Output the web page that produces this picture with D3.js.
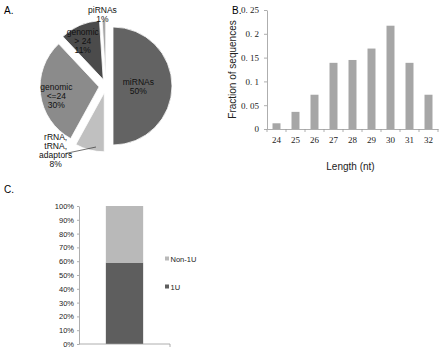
<!DOCTYPE html>
<html>
<head>
<meta charset="utf-8">
<script src="https://cdn.jsdelivr.net/npm/d3@7"></script>
<style>
  body { margin: 0; background: #fff; }
  svg { font-family: "Liberation Sans", Arial, sans-serif; }
</style>
</head>
<body>
<svg id="chart" width="440" height="350"></svg>
<script>
// A. composition of reads
var pieLabels = ['miRNAs', 'rRNA,\ntRNA,\nadaptors', 'genomic\n<=24', 'genomic\n> 24', 'piRNAs'];
var pieValues = [50, 8, 30, 11, 1];
var pieColors = ['#636363', '#c0c0c0', '#8b8b8b', '#4b4b4b', '#a8a8a8'];

// B. length distribution
var lengths = ['24', '25', '26', '27', '28', '29', '30', '31', '32'];
var fractions = [0.012, 0.036, 0.072, 0.139, 0.145, 0.169, 0.217, 0.139, 0.072];
var fracTicks = [0, 0.05, 0.1, 0.15, 0.2, 0.25];
var fracTickLabels = ['0', '0. 05', '0. 1', '0. 15', '0. 2', '0. 25'];

// C. first nucleotide
var stackSeries = ['1U', 'Non-1U'];
var stackValues = [0.59, 0.41];
var stackColors = ['#5e5e5e', '#b9b9b9'];
var pctTicks = [0, 0.1, 0.2, 0.3, 0.4, 0.5, 0.6, 0.7, 0.8, 0.9, 1];

var svg = d3.select('#chart');

// panel letters
svg.append('text').attr('x', 4).attr('y', 14).attr('font-size', 10).text('A.');
svg.append('text').attr('x', 232).attr('y', 14).attr('font-size', 10).text('B.');
svg.append('text').attr('x', 4).attr('y', 193).attr('font-size', 10).text('C.');

/* ---------- A. exploded pie ---------- */
var cx = 106, cy = 86, r = 59, explode = 7;

var pie = d3.pie().sort(null).value(function(d) { return d; });
var arcs = pie(pieValues);
var arc = d3.arc().innerRadius(0).outerRadius(r);

var gPie = svg.append('g').attr('transform', 'translate(' + cx + ',' + cy + ')');

function mid(d) { return (d.startAngle + d.endAngle) / 2; }
function polar(a, rad) { return [Math.sin(a) * rad, -Math.cos(a) * rad]; }

var slices = gPie.selectAll('.slice').data(arcs).enter().append('g')
    .attr('class', 'slice')
    .attr('transform', function(d) {
      var p = polar(mid(d), explode);
      return 'translate(' + p[0] + ',' + p[1] + ')';
    });

slices.append('path')
    .attr('d', arc)
    .style('fill', function(d, i) { return pieColors[i]; })
    .style('stroke', '#fff')
    .style('stroke-width', 0.8);

// labels: inside for large slices, outside for small ones
function writeLines(g, txt, x, y, anchor) {
  var lines = txt.split('\n');
  var lh = 9;
  var t = g.append('text')
      .attr('text-anchor', anchor || 'middle')
      .attr('font-size', 8.5)
      .attr('fill', '#111');
  lines.forEach(function(l, k) {
    t.append('tspan').attr('x', x).attr('y', y + (k - (lines.length - 1) / 2) * lh + 3).text(l);
  });
}

slices.each(function(d, i) {
  var g = d3.select(this);
  var pct = d.data + '%';
  var a = mid(d), p;
  if (d.data >= 50) {
    p = polar(a, r * 0.43);
    writeLines(g, pieLabels[i] + '\n' + pct, p[0], p[1]);
  } else if (d.data >= 10) {
    p = polar(a - 0.08, r * 0.74);
    writeLines(g, pieLabels[i] + '\n' + pct, p[0], p[1]);
  } else if (d.data >= 5) {
    // leader line out to the lower left
    var p0 = polar(a - 0.1, r * 0.93);
    p = polar(a + 0.42, r * 1.27);
    g.append('line')
        .attr('x1', p0[0]).attr('y1', p0[1])
        .attr('x2', p[0] + 8).attr('y2', p[1] + 2)
        .style('stroke', '#333').style('stroke-width', 0.7);
    writeLines(g, pieLabels[i] + '\n' + pct, p[0] - 2, p[1] - 1);
  } else {
    p = polar(a - 0.02, r * 1.1);
    writeLines(g, pieLabels[i] + '\n' + pct, p[0], p[1]);
  }
});

/* ---------- B. bar chart ---------- */
var bLeft = 267, bRight = 438, bTop = 10, bBottom = 129;

var xB = d3.scaleBand().domain(lengths).range([bLeft, bRight]).paddingInner(0.58).paddingOuter(0.29);
var yB = d3.scaleLinear().domain([0, 0.25]).range([bBottom, bTop]);

var gB = svg.append('g');

gB.selectAll('.bar').data(fractions).enter().append('rect')
    .attr('class', 'bar')
    .attr('x', function(d, i) { return xB(lengths[i]); })
    .attr('y', function(d) { return yB(d); })
    .attr('width', xB.bandwidth())
    .attr('height', function(d) { return bBottom - yB(d); })
    .style('fill', '#a6a6a6');

var yAxisB = d3.axisLeft(yB).tickValues(fracTicks)
    .tickFormat(function(d, i) { return fracTickLabels[i]; })
    .tickSize(3).tickSizeOuter(0);
var ga = gB.append('g').attr('transform', 'translate(' + bLeft + ',0)').call(yAxisB);
ga.selectAll('text').attr('font-family', '"Liberation Serif", "DejaVu Serif", serif').attr('font-size', 9).attr('fill', '#222').attr('dx', -2);

var xAxisB = d3.axisBottom(xB).tickSize(0);
var gx = gB.append('g').attr('transform', 'translate(0,' + bBottom + ')').call(xAxisB);
gx.selectAll('text').attr('font-family', '"Liberation Serif", "DejaVu Serif", serif').attr('font-size', 9).attr('fill', '#222').attr('dy', '1.2em');
// tick marks between categories
var step = xB.step();
gx.selectAll('.sep').data(lengths.concat(['end'])).enter().append('line')
    .attr('class', 'sep')
    .attr('x1', function(d, i) { return bLeft + i * step; })
    .attr('x2', function(d, i) { return bLeft + i * step; })
    .attr('y1', 0).attr('y2', 3);

svg.selectAll('.domain, .tick line, .sep').style('stroke', '#999').style('stroke-width', 0.8);

svg.append('text')
    .attr('transform', 'translate(236,' + ((bTop + bBottom) / 2) + ') rotate(-90)')
    .attr('text-anchor', 'middle').attr('font-size', 10).attr('fill', '#222')
    .text('Fraction of sequences');
svg.append('text')
    .attr('x', (bLeft + bRight) / 2 - 2).attr('y', 170)
    .attr('text-anchor', 'middle').attr('font-size', 10).attr('fill', '#222')
    .text('Length (nt)');

/* ---------- C. stacked bar ---------- */
var cLeft = 79, cRight = 170, cTop = 206, cBottom = 344;

var xC = d3.scaleBand().domain(['all']).range([cLeft, cRight]).paddingInner(0.59).paddingOuter(0.295);
var yC = d3.scaleLinear().domain([0, 1]).range([cBottom, cTop]);

var gC = svg.append('g');

var stackData = [{ key: 'all' }];
stackSeries.forEach(function(s, i) { stackData[0][s] = stackValues[i]; });
var stacked = d3.stack().keys(stackSeries)(stackData);

gC.selectAll('.seg').data(stacked).enter().append('rect')
    .attr('class', 'seg')
    .attr('x', xC('all'))
    .attr('width', xC.bandwidth())
    .attr('y', function(s) { return yC(s[0][1]); })
    .attr('height', function(s) { return yC(s[0][0]) - yC(s[0][1]); })
    .style('fill', function(s, i) { return stackColors[i]; });

var yAxisC = d3.axisLeft(yC).tickValues(pctTicks).tickFormat(d3.format('.0%')).tickSize(2).tickSizeOuter(0);
var gcy = gC.append('g').attr('transform', 'translate(' + cLeft + ',0)').call(yAxisC);
gcy.selectAll('text').attr('font-size', 7.5).attr('fill', '#222');

var gcx = gC.append('g').attr('transform', 'translate(0,' + cBottom + ')');
gcx.append('line').attr('x1', cLeft).attr('x2', cRight).attr('y1', 0).attr('y2', 0);
gcx.append('line').attr('x1', cRight).attr('x2', cRight).attr('y1', 0).attr('y2', 3);
gcx.selectAll('line').style('stroke', '#999').style('stroke-width', 0.8);
gcy.selectAll('.domain, .tick line').style('stroke', '#999').style('stroke-width', 0.8);

// legend, top entry is the top segment
var legend = gC.selectAll('.leg').data(stackSeries.slice().reverse()).enter().append('g')
    .attr('class', 'leg')
    .attr('transform', function(d, i) { return 'translate(165,' + (259 + i * 28) + ')'; });
legend.append('rect').attr('x', 0).attr('y', -2.5).attr('width', 4).attr('height', 4)
    .style('fill', function(d) { return stackColors[stackSeries.indexOf(d)]; });
legend.append('text').attr('x', 5.5).attr('y', 2.5).attr('font-size', 7.5).attr('fill', '#222').text(function(d) { return d; });
</script>
</body>
</html>
